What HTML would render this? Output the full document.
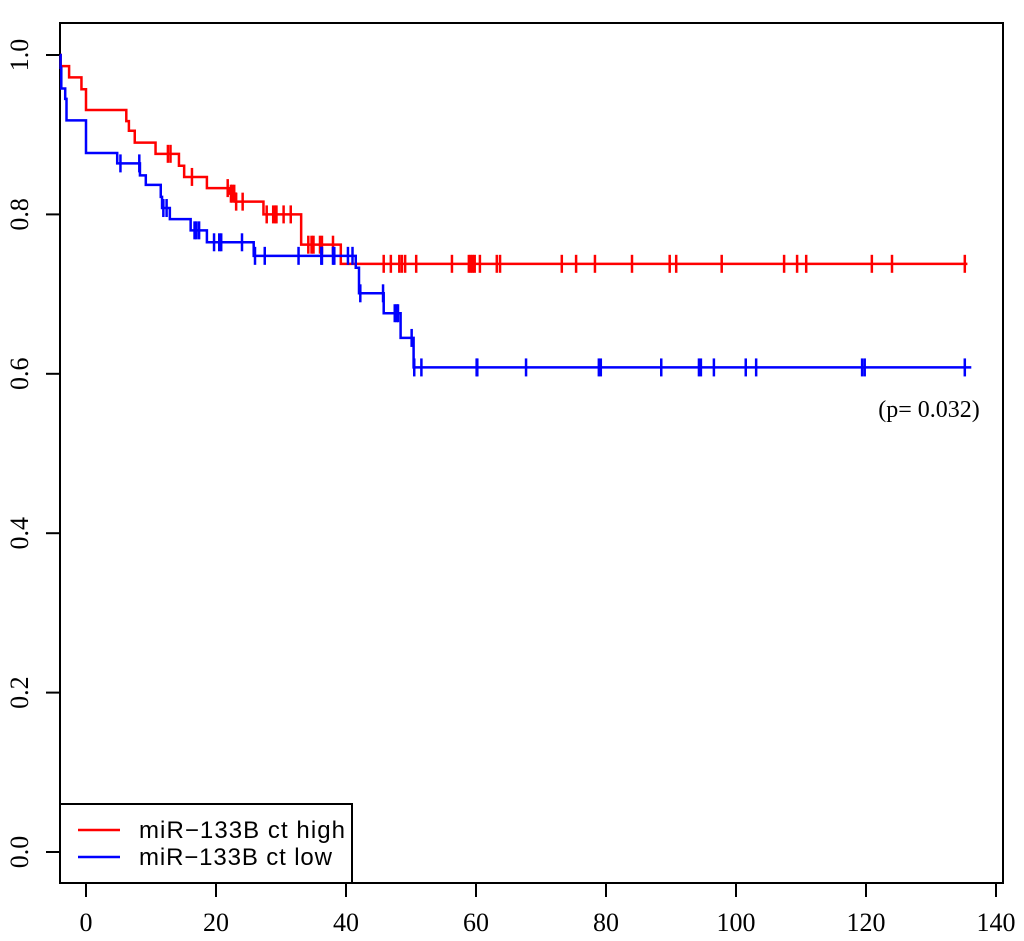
<!DOCTYPE html>
<html><head><meta charset="utf-8"><style>
body{margin:0;background:#fff}
svg{display:block}
</style></head><body>
<svg id="chart" width="1024" height="941" xmlns="http://www.w3.org/2000/svg">
<rect x="60" y="23" width="943" height="860" fill="none" stroke="#000" stroke-width="2"/>
<g id="xaxis"></g>
<g id="yaxis"></g>
<g id="series"></g>
<text x="929" y="417" text-anchor="middle" font-family="Liberation Serif, serif" font-size="24">(p= 0.032)</text>
<g>
<rect x="60" y="804" width="292" height="79" fill="#fff" stroke="#000" stroke-width="2"/>
<line x1="78" y1="830" x2="120" y2="830" stroke="#ff0000" stroke-width="2.5"/>
<text x="139" y="838" font-family="Liberation Sans, sans-serif" font-size="24" textLength="206">miR−133B ct high</text>
<line x1="78" y1="857" x2="120" y2="857" stroke="#0000ff" stroke-width="2.5"/>
<text x="139" y="865" font-family="Liberation Sans, sans-serif" font-size="24" textLength="193">miR−133B ct low</text>
</g>
</svg>
<script>
const xTicks=[0,20,40,60,80,100,120,140];
const yTicks=[0.0,0.2,0.4,0.6,0.8,1.0];
const yTickLabels=["0.0","0.2","0.4","0.6","0.8","1.0"];
const highTimes=[-4,-3.9,-2.6,-0.7,0,6.2,6.6,7.5,10.7,14.3,15.1,18.6,22.1,23,27.3,33.1,39.2];
const highSurv=[1.0,0.986,0.972,0.957,0.931,0.917,0.905,0.890,0.876,0.861,0.847,0.833,0.826,0.816,0.800,0.762,0.738];
const highEnd=135.6;
const highCensT=[12.6,13.0,16.3,21.8,22.3,22.5,22.8,23.1,24.1,27.8,28.8,29.1,29.3,30.4,31.5,34.2,34.7,35.0,36.0,36.3,38.0,45.8,46.9,48.2,48.6,49.1,50.8,56.3,58.9,59.2,59.5,59.8,60.6,63.2,63.7,73.2,75.4,78.3,84.0,89.8,90.8,97.8,107.4,109.4,110.8,120.9,124.0,135.2];
const lowTimes=[-4,-3.9,-3.8,-3.2,-3.0,0,4.8,8.3,9.2,11.5,11.7,12.9,16.1,18.6,25.8,41.5,42,45.8,48.4,50.4];
const lowSurv=[1.0,0.984,0.958,0.945,0.918,0.877,0.864,0.849,0.837,0.822,0.808,0.794,0.780,0.765,0.748,0.733,0.701,0.676,0.645,0.608];
const lowEnd=136.2;
const lowCensT=[5.3,8.2,11.9,12.4,16.7,17.0,17.4,19.7,20.5,20.8,24.0,26.0,27.5,32.7,36.2,36.3,38.0,38.2,40.3,41.0,42.2,45.7,47.5,47.8,48.0,50.1,50.5,51.6,60.1,60.2,67.7,78.9,79.2,88.5,94.3,94.6,96.6,101.5,103.1,119.4,119.8,135.2];

const NS="http://www.w3.org/2000/svg";
const X=t=>86+t*6.5;
const Y=s=>852-s*797;
function mk(tag,attrs,parent){const e=document.createElementNS(NS,tag);for(const k in attrs)e.setAttribute(k,attrs[k]);parent.appendChild(e);return e;}
const xa=document.getElementById('xaxis'),ya=document.getElementById('yaxis'),sg=document.getElementById('series');
xTicks.forEach(v=>{
 const l=mk('line',{x1:X(v),y1:883,x2:X(v),y2:897,stroke:'#000','stroke-width':2},xa);
 
 
 const t=mk('text',{x:X(v),y:931,'text-anchor':'middle','font-family':'Liberation Serif, serif','font-size':26},xa);
 t.textContent=v;
 
 
});
yTicks.forEach((v,i)=>{
 const l=mk('line',{x1:46,y1:Y(v),x2:60,y2:Y(v),stroke:'#000','stroke-width':2},ya);
 
 
 const t=mk('text',{x:0,y:0,'text-anchor':'middle','font-family':'Liberation Serif, serif','font-size':26,transform:`translate(28,${Y(v)}) rotate(-90)`},ya);
 t.textContent=yTickLabels[i];
 
 
});
function survAt(times,surv,t){let s=surv[0];for(let i=0;i<times.length;i++){if(times[i]<=t)s=surv[i];}return s;}
function drawCurve(times,surv,end,cens,color,name){
 let d=`M${X(times[0])},${Y(surv[0])}`;
 for(let i=1;i<times.length;i++){d+=` H${X(times[i])} V${Y(surv[i])}`;}
 d+=` H${X(end)}`;
 const p=mk('path',{d:d,fill:'none',stroke:color,'stroke-width':2.5},sg);
 
 
 cens.forEach(t=>{
  const y=Y(survAt(times,surv,t));
  const c=mk('line',{x1:X(t),y1:y-9,x2:X(t),y2:y+9,stroke:color,'stroke-width':2.5},sg);
  
  
 });
}
drawCurve(highTimes,highSurv,highEnd,highCensT,'#ff0000','high');
drawCurve(lowTimes,lowSurv,lowEnd,lowCensT,'#0000ff','low');
</script>
</body></html>
